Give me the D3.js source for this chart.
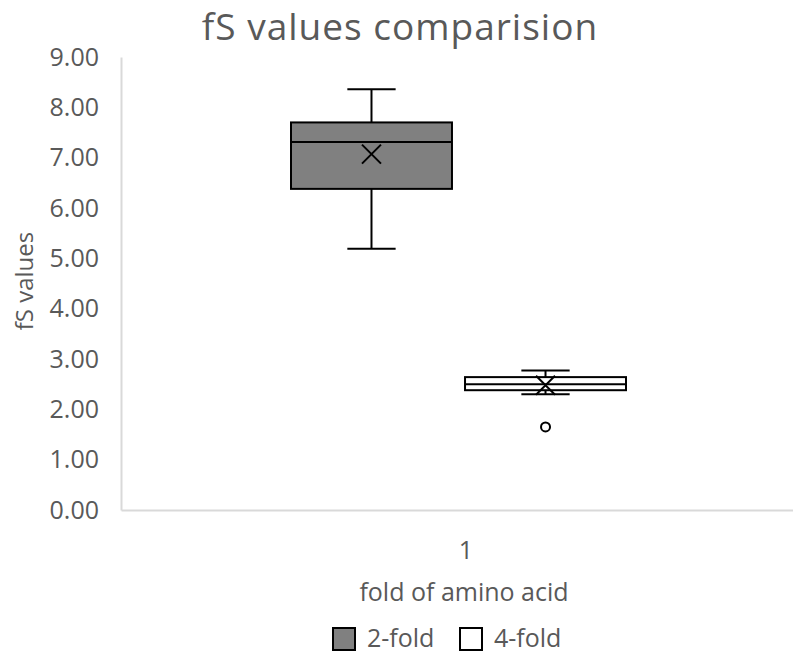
<!DOCTYPE html>
<html>
<head>
<meta charset="utf-8">
<script src="https://cdn.jsdelivr.net/npm/d3@7"></script>
<style>
  body { margin: 0; background: #fff; }
  text { font-family: "Open Sans", "Noto Sans", sans-serif; fill: #595959; }
</style>
</head>
<body>
<svg id="chart" width="793" height="653"></svg>
<script>
// data
var categories = ["1"];
var seriesNames = ["2-fold", "4-fold"];
var seriesFill = ["#808080", "#ffffff"];
var whiskerLow = [5.19, 2.30];
var q1 = [6.38, 2.38];
var median = [7.31, 2.50];
var q3 = [7.70, 2.64];
var whiskerHigh = [8.36, 2.77];
var mean = [7.07, 2.48];
var outliers = [[], [1.65]];
var yTicks = [0, 1, 2, 3, 4, 5, 6, 7, 8, 9];

var svg = d3.select("#chart"),
    width = +svg.attr("width"),
    height = +svg.attr("height");

var plotLeft = 121, plotRight = 811, plotTop = 57, plotBottom = 510;

var y = d3.scaleLinear()
    .domain([0, 9])
    .range([plotBottom, plotTop]);

var x0 = d3.scaleBand()
    .domain(categories)
    .range([plotLeft, plotRight]);

var x1 = d3.scaleBand()
    .domain(seriesNames)
    .range([170, 505])
    .paddingInner(0.075);

// title
svg.append("text")
    .attr("x", 400)
    .attr("y", 40)
    .attr("text-anchor", "middle")
    .style("font-size", "37px")
    .style("letter-spacing", "1px")
    .text("fS values comparision");

// y axis
var yAxis = svg.append("g")
    .attr("transform", "translate(" + plotLeft + ",0)")
    .call(d3.axisLeft(y).tickValues(yTicks).tickSize(0).tickPadding(22).tickFormat(d3.format(".2f")));
yAxis.select(".domain").attr("stroke", "#d9d9d9").attr("stroke-width", 2);
yAxis.selectAll("text").style("font-size", "25px").attr("fill", "#595959");

// x axis
var xAxis = svg.append("g")
    .attr("transform", "translate(0," + plotBottom + ")")
    .call(d3.axisBottom(x0).tickSize(0).tickPadding(31));
xAxis.select(".domain").attr("stroke", "#d9d9d9").attr("stroke-width", 2);
xAxis.selectAll("text").style("font-size", "25px").attr("fill", "#595959");

// axis titles
svg.append("text")
    .attr("transform", "translate(33,281) rotate(-90)")
    .attr("text-anchor", "middle")
    .style("font-size", "24px")
    .text("fS values");

svg.append("text")
    .attr("x", 464)
    .attr("y", 601)
    .attr("text-anchor", "middle")
    .style("font-size", "25px")
    .text("fold of amino acid");

// boxes
var boxes = svg.append("g").selectAll("g")
    .data(seriesNames)
    .enter().append("g")
    .attr("transform", function(d) { return "translate(" + (x0("1") + x1(d)) + ",0)"; });

var bw = x1.bandwidth();
var capW = bw * 0.3;

boxes.append("line")
    .attr("x1", bw / 2).attr("x2", bw / 2)
    .attr("y1", function(d, i) { return y(whiskerHigh[i]); })
    .attr("y2", function(d, i) { return y(q3[i]); })
    .attr("stroke", "#000").attr("stroke-width", 2);
boxes.append("line")
    .attr("x1", bw / 2).attr("x2", bw / 2)
    .attr("y1", function(d, i) { return y(q1[i]); })
    .attr("y2", function(d, i) { return y(whiskerLow[i]); })
    .attr("stroke", "#000").attr("stroke-width", 2);
boxes.append("line")
    .attr("x1", bw / 2 - capW / 2).attr("x2", bw / 2 + capW / 2)
    .attr("y1", function(d, i) { return y(whiskerHigh[i]); })
    .attr("y2", function(d, i) { return y(whiskerHigh[i]); })
    .attr("stroke", "#000").attr("stroke-width", 2);
boxes.append("line")
    .attr("x1", bw / 2 - capW / 2).attr("x2", bw / 2 + capW / 2)
    .attr("y1", function(d, i) { return y(whiskerLow[i]); })
    .attr("y2", function(d, i) { return y(whiskerLow[i]); })
    .attr("stroke", "#000").attr("stroke-width", 2);

boxes.append("rect")
    .attr("x", 0)
    .attr("width", bw)
    .attr("y", function(d, i) { return y(q3[i]); })
    .attr("height", function(d, i) { return y(q1[i]) - y(q3[i]); })
    .attr("fill", function(d, i) { return seriesFill[i]; })
    .attr("stroke", "#000").attr("stroke-width", 2);

boxes.append("line")
    .attr("x1", 0).attr("x2", bw)
    .attr("y1", function(d, i) { return y(median[i]); })
    .attr("y2", function(d, i) { return y(median[i]); })
    .attr("stroke", "#000").attr("stroke-width", 2);

// mean markers
boxes.append("path")
    .attr("d", function(d, i) {
      var cx = bw / 2, cy = y(mean[i]), s = 9.5;
      return "M" + (cx - s) + "," + (cy - s) + "L" + (cx + s) + "," + (cy + s) +
             "M" + (cx + s) + "," + (cy - s) + "L" + (cx - s) + "," + (cy + s);
    })
    .attr("stroke", "#000").attr("stroke-width", 2).attr("fill", "none");

// outliers
boxes.selectAll("circle")
    .data(function(d, i) { return outliers[i]; })
    .enter().append("circle")
    .attr("cx", bw / 2)
    .attr("cy", function(d) { return y(d); })
    .attr("r", 4.5)
    .attr("fill", "#fff")
    .attr("stroke", "#000").attr("stroke-width", 2);

// legend
var legend = svg.append("g").selectAll("g")
    .data(seriesNames)
    .enter().append("g")
    .attr("transform", function(d, i) { return "translate(" + (333 + i * 127) + ",628)"; });
legend.append("rect")
    .attr("width", 22).attr("height", 22)
    .attr("fill", function(d, i) { return seriesFill[i]; })
    .attr("stroke", "#000").attr("stroke-width", 2);
legend.append("text")
    .attr("x", 34)
    .attr("y", 19)
    .style("font-size", "25px")
    .text(function(d) { return d; });
</script>
</body>
</html>
